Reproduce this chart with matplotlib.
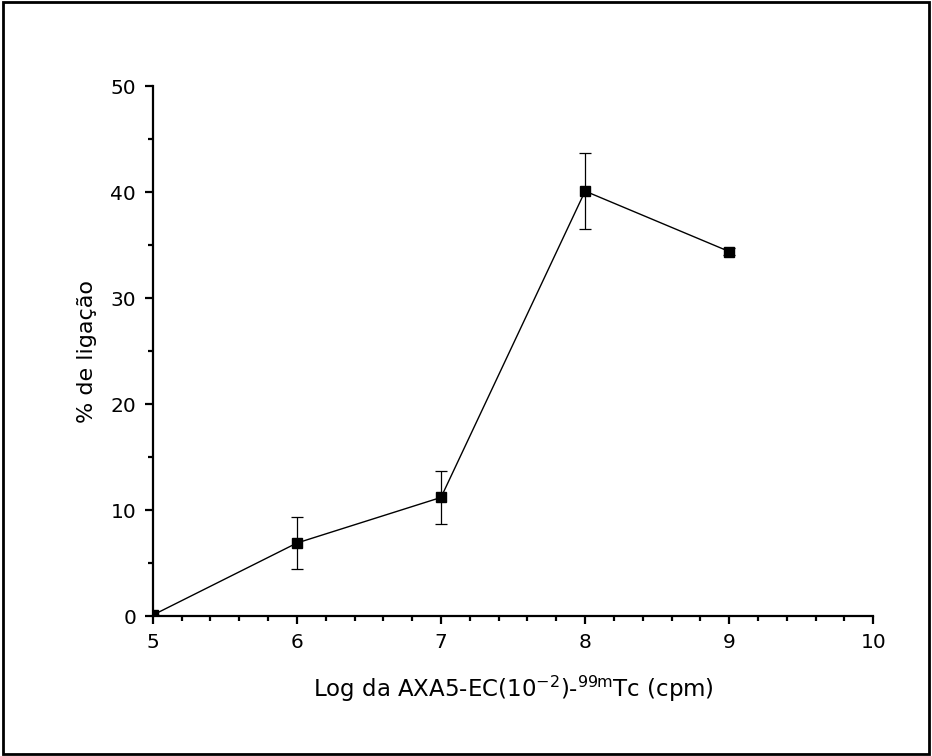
import numpy as np
import matplotlib
matplotlib.use("Agg")
import matplotlib.pyplot as plt
from matplotlib.patches import Rectangle
from matplotlib.ticker import MultipleLocator

# data
log_cpm = [5, 6, 7, 8, 9]
binding = [0.1, 6.9, 11.2, 40.1, 34.4]
binding_err = [0.0, 2.45, 2.5, 3.55, 0.3]

plt.rcParams["font.family"] = "DejaVu Sans"
plt.rcParams["mathtext.default"] = "regular"

fig = plt.figure(figsize=(9.32, 7.56), dpi=100)
ax = fig.add_axes([0.164, 0.185, 0.773, 0.701])

ax.plot(log_cpm, binding, color="black", lw=1.0, zorder=2)
ax.errorbar(log_cpm, binding, yerr=binding_err, fmt="none", ecolor="black",
            elinewidth=0.9, capsize=4, capthick=0.9, zorder=3)
ax.plot(log_cpm, binding, ls="none", marker="s", ms=7.5, color="black", zorder=4)

ax.set_xlim(5, 10)
ax.set_ylim(0, 50)
ax.xaxis.set_major_locator(MultipleLocator(1))
ax.xaxis.set_minor_locator(MultipleLocator(0.2))
ax.yaxis.set_major_locator(MultipleLocator(10))
ax.yaxis.set_minor_locator(MultipleLocator(5))

for s in ["top", "right"]:
    ax.spines[s].set_visible(False)
for s in ["left", "bottom"]:
    ax.spines[s].set_linewidth(1.6)

ax.tick_params(which="major", direction="out", length=6, width=1.6, labelsize=14.5, pad=6)
ax.tick_params(which="minor", direction="out", length=3.5, width=1.6)

ax.set_xlabel(r"Log da AXA5-EC(10$^{-2}$)-$^{99m}$Tc (cpm)", fontsize=16.5, labelpad=16)
ax.set_ylabel("% de ligação", fontsize=16, labelpad=10)

# outer border around the whole figure
fig.patches.append(Rectangle((0.003, 0.003), 0.994, 0.994, transform=fig.transFigure,
                             fill=False, edgecolor="black", lw=2))

plt.savefig("out.png", dpi=100)
